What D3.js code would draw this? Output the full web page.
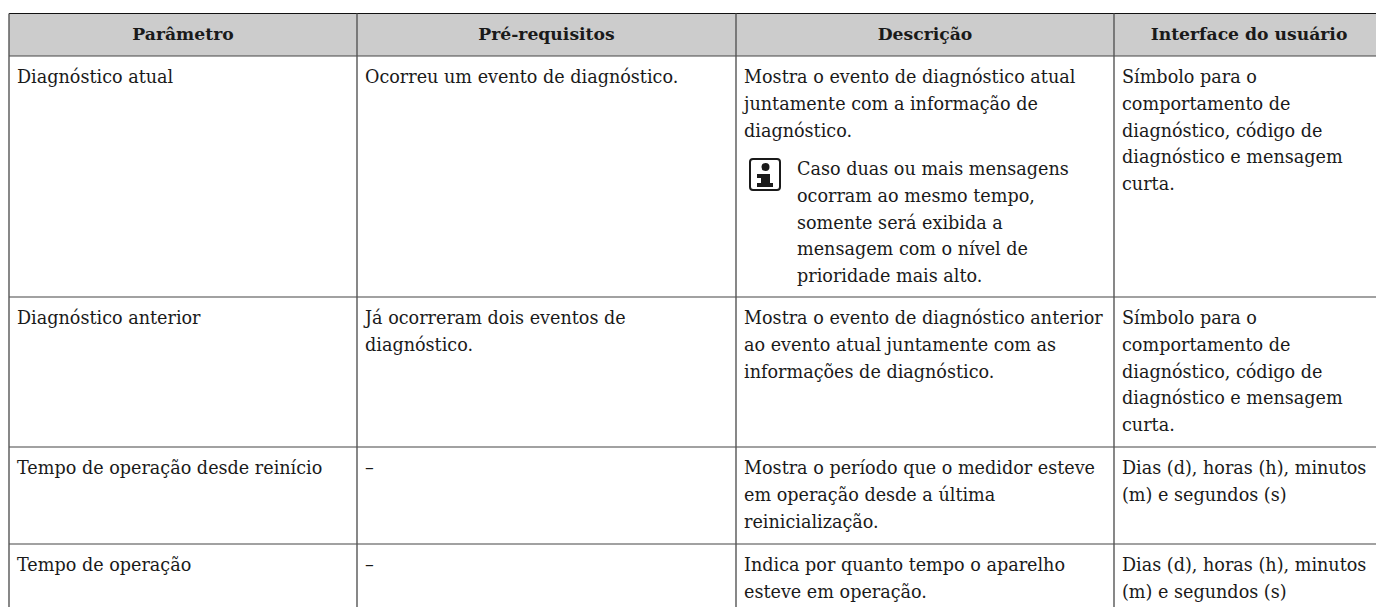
<!DOCTYPE html>
<html>
<head>
<meta charset="utf-8">
<script src="https://cdn.jsdelivr.net/npm/d3@7.9.0/dist/d3.min.js"></script>
<style>
  html, body { margin: 0; padding: 0; background: #fff; }
  svg { display: block; }
  text { font-family: "DejaVu Serif", serif; fill: #1a1a1a; }
</style>
</head>
<body>
<div class="container"></div>
<script>
const width = 1376, height = 607;

// Table content
const columns = ["Parâmetro", "Pré-requisitos", "Descrição", "Interface do usuário"];
const rowNames = ["Diagnóstico atual", "Diagnóstico anterior", "Tempo de operação desde reinício", "Tempo de operação"];
const prereqLines = [
    ["Ocorreu um evento de diagnóstico."],
    ["Já ocorreram dois eventos de", "diagnóstico."],
    ["–"],
    ["–"]
];
const descLines = [
    ["Mostra o evento de diagnóstico atual", "juntamente com a informação de", "diagnóstico."],
    ["Mostra o evento de diagnóstico anterior", "ao evento atual juntamente com as", "informações de diagnóstico."],
    ["Mostra o período que o medidor esteve", "em operação desde a última", "reinicialização."],
    ["Indica por quanto tempo o aparelho", "esteve em operação."]
];
const noteLines = ["Caso duas ou mais mensagens", "ocorram ao mesmo tempo,", "somente será exibida a", "mensagem com o nível de", "prioridade mais alto."];
const uiLines = [
    ["Símbolo para o", "comportamento de", "diagnóstico, código de", "diagnóstico e mensagem", "curta."],
    ["Símbolo para o", "comportamento de", "diagnóstico, código de", "diagnóstico e mensagem", "curta."],
    ["Dias (d), horas (h), minutos", "(m) e segundos (s)"],
    ["Dias (d), horas (h), minutos", "(m) e segundos (s)"]
];

// column edges and row edges (last column runs off the page)
const colEdges = [9, 357, 736, 1114, 1384];
const rowEdges = [56, 297, 447, 544, 607];
const lineHeight = 26.75, fontSize = 17.6;

const svg = d3.select(".container").append("svg")
    .attr("width", width)
    .attr("height", height);

svg.append("rect")
    .attr("x", colEdges[0]).attr("y", 13.5)
    .attr("width", width - colEdges[0]).attr("height", rowEdges[0] - 13.5)
    .attr("fill", "#cccccc");

// header text
svg.selectAll(".head").data(columns).enter().append("text")
    .attr("class", "head")
    .attr("x", (d, i) => (colEdges[i] + colEdges[i + 1]) / 2)
    .attr("y", 40)
    .attr("text-anchor", "middle")
    .attr("font-weight", "bold")
    .attr("font-size", 17.2)
    .text(d => d);

function block(lines, x, y) {
    svg.append("g").selectAll("text").data(lines).enter().append("text")
        .attr("x", x)
        .attr("y", (d, i) => y + i * lineHeight)
        .attr("font-size", fontSize)
        .text(d => d);
}

rowNames.forEach((name, r) => {
    const y = rowEdges[r] + 27;
    block([name], colEdges[0] + 8, y);
    block(prereqLines[r], colEdges[1] + 8, y);
    block(descLines[r], colEdges[2] + 8, y);
    block(uiLines[r], colEdges[3] + 8, y);
});

// note inside first description cell
block(noteLines, 797, 175);
const icon = svg.append("g").attr("transform", "translate(749,158)");
icon.append("rect").attr("x", 1).attr("y", 1).attr("width", 30).attr("height", 31).attr("rx", 3)
    .attr("fill", "none").attr("stroke", "#1a1a1a").attr("stroke-width", 2);
icon.append("circle").attr("cx", 16.5).attr("cy", 9).attr("r", 4).attr("fill", "#1a1a1a");
icon.append("path").attr("fill", "#1a1a1a")
    .attr("d", "M8,16H21V25H24V29H8V25H12V20H8Z");

// rules
const rules = svg.append("g");
rules.append("line").attr("x1", colEdges[0]).attr("x2", width).attr("y1", 13.5).attr("y2", 13.5)
    .attr("stroke", "#111").attr("stroke-width", 1);
rowEdges.slice(0, 4).forEach(y => {
    rules.append("line").attr("x1", colEdges[0]).attr("x2", width).attr("y1", y).attr("y2", y)
        .attr("stroke", "#444").attr("stroke-width", 1.2);
});
colEdges.slice(0, 4).forEach(x => {
    rules.append("line").attr("x1", x).attr("x2", x).attr("y1", 13.5).attr("y2", height)
        .attr("stroke", "#555").attr("stroke-width", 1.4);
});
</script>
</body>
</html>
